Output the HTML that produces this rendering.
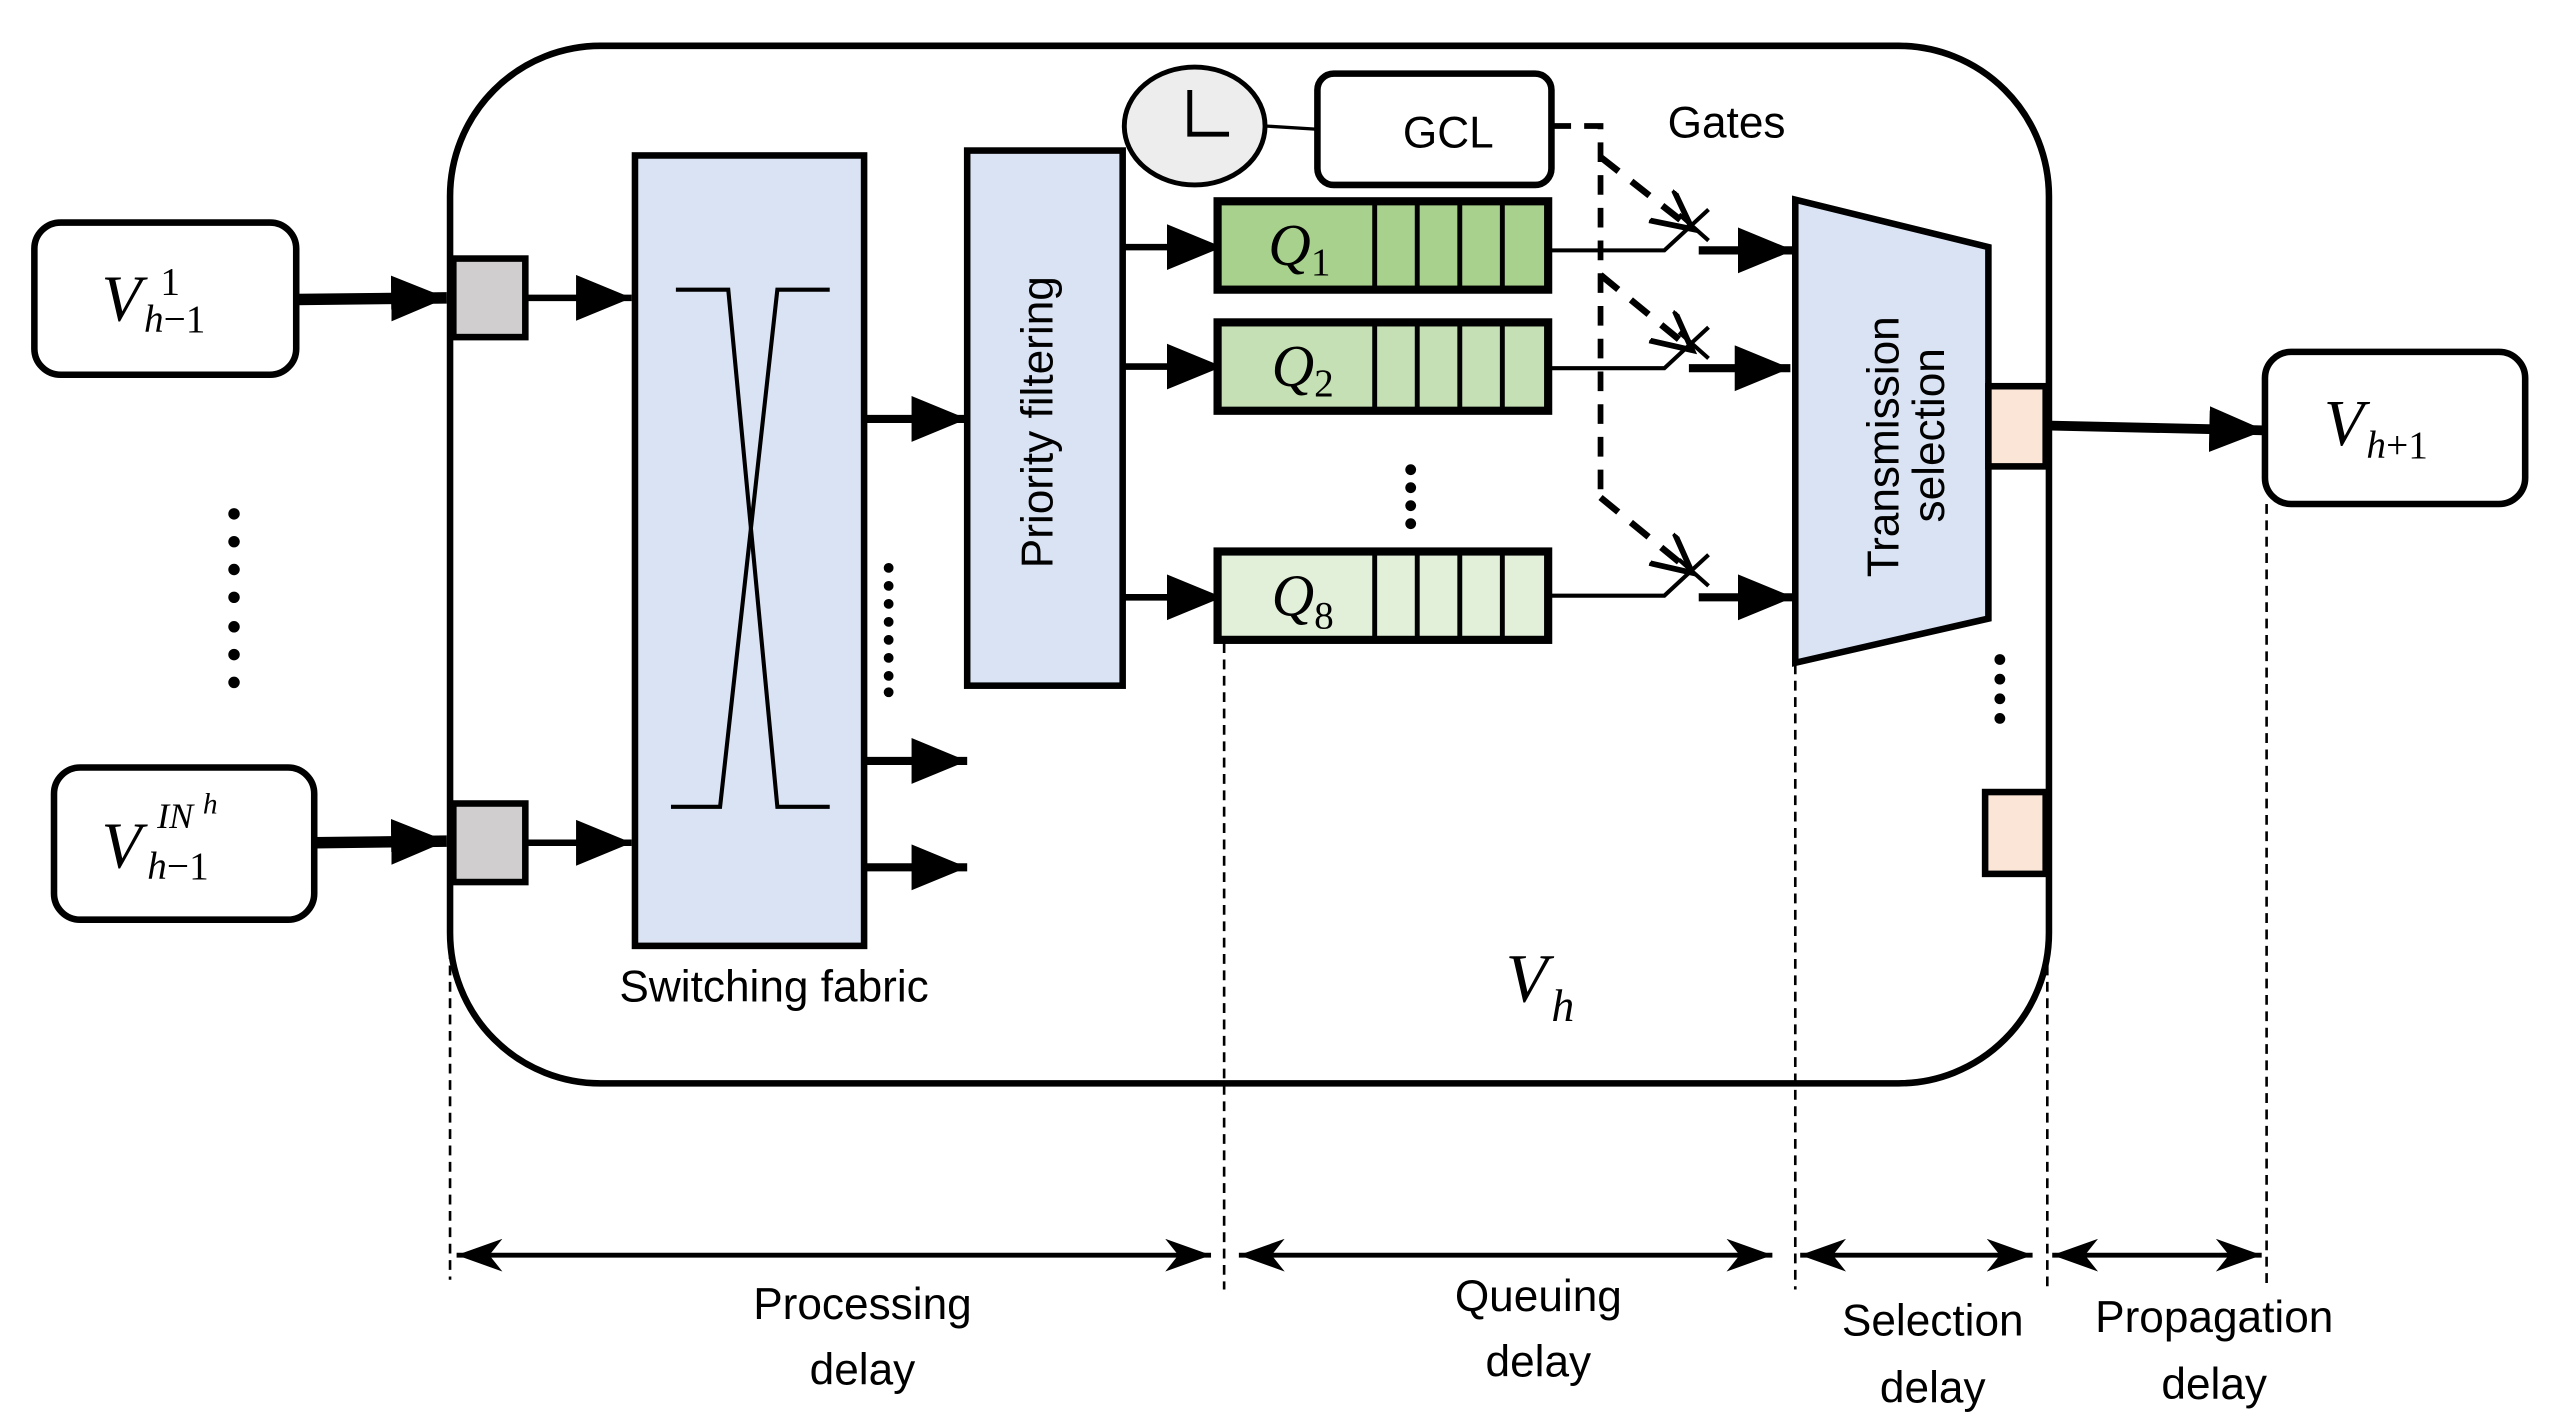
<!DOCTYPE html>
<html><head><meta charset="utf-8"><style>
html,body{margin:0;padding:0;background:#fff;}
svg{display:block;}
.t{font-family:"Liberation Sans",sans-serif;font-size:27px;fill:#000;}
.m{font-family:"Liberation Serif",serif;font-style:italic;fill:#000;}
.u{font-style:normal;}
</style></head><body>
<svg width="2553" height="1427" viewBox="0 0 1560 872" preserveAspectRatio="none" xmlns="http://www.w3.org/2000/svg">
<defs>
<marker id="ah" markerUnits="userSpaceOnUse" markerWidth="40" markerHeight="30" refX="34" refY="14" orient="auto">
<polygon points="0,0 34,14 0,28" fill="#000"/></marker>
<marker id="dh" markerUnits="userSpaceOnUse" markerWidth="30" markerHeight="20" refX="28" refY="10" orient="auto-start-reverse">
<polygon points="0,0 28,10 0,20 8,10" fill="#000"/></marker>
<marker id="ch" markerUnits="userSpaceOnUse" markerWidth="30" markerHeight="30" refX="24" refY="12" orient="auto">
<polyline points="0,0 24,12 0,24" fill="none" stroke="#000" stroke-width="3.5"/></marker>
</defs>

<rect x="275" y="28" width="977" height="634" rx="92" fill="none" stroke="#000" stroke-width="4"/>

<rect x="21" y="136" width="160" height="93" rx="16" fill="#fff" stroke="#000" stroke-width="4"/>
<text class="m" x="62" y="196" font-size="40">V</text>
<text class="m u" x="98" y="180" font-size="24">1</text>
<text class="m" x="88" y="203" font-size="24">h<tspan class="u">−1</tspan></text>
<rect x="33" y="469" width="159" height="93" rx="16" fill="#fff" stroke="#000" stroke-width="4"/>
<text class="m" x="62" y="530" font-size="40">V</text>
<text class="m" x="96" y="506" font-size="22">IN</text>
<text class="m" x="124" y="497" font-size="18">h</text>
<text class="m" x="90" y="537" font-size="24">h<tspan class="u">−1</tspan></text>

<g fill="#000">
<circle cx="143" cy="314" r="3.5"/><circle cx="143" cy="331" r="3.5"/><circle cx="143" cy="348" r="3.5"/><circle cx="143" cy="365" r="3.5"/><circle cx="143" cy="383" r="3.5"/><circle cx="143" cy="400" r="3.5"/><circle cx="143" cy="417" r="3.5"/>
</g>

<line x1="181" y1="183" x2="273" y2="182" stroke="#000" stroke-width="7" marker-end="url(#ah)"/>
<line x1="192" y1="515" x2="273" y2="514" stroke="#000" stroke-width="7" marker-end="url(#ah)"/>

<rect x="277" y="158" width="44" height="48" fill="#d0cece" stroke="#000" stroke-width="4"/>
<rect x="277" y="491" width="44" height="48" fill="#d0cece" stroke="#000" stroke-width="4"/>
<line x1="321" y1="182" x2="386" y2="182" stroke="#000" stroke-width="4" marker-end="url(#ah)"/>
<line x1="321" y1="515" x2="386" y2="515" stroke="#000" stroke-width="4" marker-end="url(#ah)"/>

<rect x="388" y="95" width="140" height="483" fill="#dae3f3" stroke="#000" stroke-width="4"/>
<g stroke="#000" stroke-width="2.5" fill="none">
<polyline points="413,177 445,177 475,493 507,493"/>
<polyline points="507,177 475,177 440,493 410,493"/>
</g>
<text class="t" x="473" y="612" text-anchor="middle" font-size="26">Switching fabric</text>

<line x1="528" y1="256" x2="591" y2="256" stroke="#000" stroke-width="5" marker-end="url(#ah)"/>
<line x1="528" y1="465" x2="591" y2="465" stroke="#000" stroke-width="5" marker-end="url(#ah)"/>
<line x1="528" y1="530" x2="591" y2="530" stroke="#000" stroke-width="5" marker-end="url(#ah)"/>
<g fill="#000">
<circle cx="543" cy="347" r="3"/><circle cx="543" cy="358" r="3"/><circle cx="543" cy="369" r="3"/><circle cx="543" cy="380" r="3"/><circle cx="543" cy="391" r="3"/><circle cx="543" cy="402" r="3"/><circle cx="543" cy="413" r="3"/><circle cx="543" cy="423" r="3"/>
</g>

<rect x="591" y="92" width="95" height="327" fill="#dae3f3" stroke="#000" stroke-width="4"/>
<text class="t" transform="translate(643,258) rotate(-90)" text-anchor="middle" font-size="27">Priority filtering</text>
<line x1="686" y1="151" x2="747" y2="151" stroke="#000" stroke-width="4" marker-end="url(#ah)"/>
<line x1="686" y1="224" x2="747" y2="224" stroke="#000" stroke-width="4" marker-end="url(#ah)"/>
<line x1="686" y1="365" x2="747" y2="365" stroke="#000" stroke-width="4" marker-end="url(#ah)"/>

<g stroke="#000">
<rect x="744" y="123" width="202" height="54" fill="#a9d18e" stroke-width="5"/>
<rect x="744" y="197" width="202" height="54" fill="#c5e0b4" stroke-width="5"/>
<rect x="744" y="337" width="202" height="54" fill="#e2f0d9" stroke-width="5"/>
<g stroke-width="3">
<line x1="840" y1="123" x2="840" y2="177"/><line x1="866" y1="123" x2="866" y2="177"/><line x1="892" y1="123" x2="892" y2="177"/><line x1="918" y1="123" x2="918" y2="177"/>
<line x1="840" y1="197" x2="840" y2="251"/><line x1="866" y1="197" x2="866" y2="251"/><line x1="892" y1="197" x2="892" y2="251"/><line x1="918" y1="197" x2="918" y2="251"/>
<line x1="840" y1="337" x2="840" y2="391"/><line x1="866" y1="337" x2="866" y2="391"/><line x1="892" y1="337" x2="892" y2="391"/><line x1="918" y1="337" x2="918" y2="391"/>
</g></g>
<text class="m" x="775" y="162" font-size="36">Q</text><text class="m u" x="801" y="168" font-size="24">1</text>
<text class="m" x="777" y="236" font-size="36">Q</text><text class="m u" x="803" y="242" font-size="24">2</text>
<text class="m" x="777" y="376" font-size="36">Q</text><text class="m u" x="803" y="384" font-size="24">8</text>
<g fill="#000"><circle cx="862" cy="287" r="3.3"/><circle cx="862" cy="298" r="3.3"/><circle cx="862" cy="309" r="3.3"/><circle cx="862" cy="320" r="3.3"/></g>

<ellipse cx="730" cy="77" rx="43" ry="36" fill="#ededed" stroke="#000" stroke-width="3"/>
<polyline points="727,55 727,82 751,82" fill="none" stroke="#000" stroke-width="3"/>
<line x1="773" y1="77" x2="805" y2="79" stroke="#000" stroke-width="2"/>
<rect x="805" y="45" width="143" height="68" rx="10" fill="#fff" stroke="#000" stroke-width="4"/>
<text class="t" x="885" y="90" text-anchor="middle" font-size="31">GCL</text>
<text class="t" x="1055" y="84" text-anchor="middle" font-size="28">Gates</text>

<g stroke="#000" stroke-width="3.5" fill="none" stroke-dasharray="12,8">
<polyline points="948,77 978,77 978,300"/>
</g>
<g stroke="#000" stroke-width="4" fill="none" stroke-dasharray="14,10">
<line x1="978" y1="96" x2="1034" y2="140" marker-end="url(#ch)"/>
<line x1="978" y1="168" x2="1034" y2="214" marker-end="url(#ch)"/>
<line x1="978" y1="304" x2="1034" y2="350" marker-end="url(#ch)"/>
</g>

<g stroke="#000" stroke-width="2.5" fill="none">
<polyline points="948,153 1017,153 1044,128"/>
<line x1="1026" y1="131" x2="1044" y2="147"/>
<polyline points="948,225 1017,225 1044,200"/>
<line x1="1026" y1="203" x2="1044" y2="219"/>
<polyline points="948,364 1017,364 1044,339"/>
<line x1="1026" y1="342" x2="1044" y2="358"/>
</g>
<line x1="1038" y1="153" x2="1096" y2="153" stroke="#000" stroke-width="5" marker-end="url(#ah)"/>
<line x1="1032" y1="225" x2="1094" y2="225" stroke="#000" stroke-width="5" marker-end="url(#ah)"/>
<line x1="1038" y1="365" x2="1096" y2="365" stroke="#000" stroke-width="5" marker-end="url(#ah)"/>

<polygon points="1097,122 1215,151 1215,378 1097,405" fill="#dae3f3" stroke="#000" stroke-width="4"/>
<text class="t" transform="translate(1160,273) rotate(-90)" text-anchor="middle" font-size="26">Transmission</text>
<text class="t" transform="translate(1188,266) rotate(-90)" text-anchor="middle" font-size="26">selection</text>

<rect x="1215" y="236" width="35" height="49" fill="#fbe5d6" stroke="#000" stroke-width="4"/>
<rect x="1213" y="484" width="37" height="50" fill="#fbe5d6" stroke="#000" stroke-width="4"/>
<g fill="#000"><circle cx="1222" cy="403" r="3.3"/><circle cx="1222" cy="415" r="3.3"/><circle cx="1222" cy="427" r="3.3"/><circle cx="1222" cy="439" r="3.3"/></g>
<line x1="1250" y1="260" x2="1384" y2="263" stroke="#000" stroke-width="6" marker-end="url(#ah)"/>

<rect x="1384" y="215" width="159" height="93" rx="16" fill="#fff" stroke="#000" stroke-width="4"/>
<text class="m" x="1420" y="272" font-size="40">V</text>
<text class="m" x="1446" y="280" font-size="24">h<tspan class="u">+1</tspan></text>

<text class="m" x="920" y="612" font-size="42">V</text>
<text class="m" x="948" y="624" font-size="28">h</text>

<g stroke="#000" stroke-width="1.6" stroke-dasharray="6,4">
<line x1="275" y1="580" x2="275" y2="782"/>
<line x1="748" y1="393" x2="748" y2="788"/>
<line x1="1097" y1="406" x2="1097" y2="788"/>
<line x1="1251" y1="580" x2="1251" y2="788"/>
<line x1="1385" y1="308" x2="1385" y2="788"/>
</g>
<g stroke="#000" stroke-width="3">
<line x1="279" y1="767" x2="740" y2="767" marker-start="url(#dh)" marker-end="url(#dh)"/>
<line x1="757" y1="767" x2="1083" y2="767" marker-start="url(#dh)" marker-end="url(#dh)"/>
<line x1="1100" y1="767" x2="1242" y2="767" marker-start="url(#dh)" marker-end="url(#dh)"/>
<line x1="1254" y1="767" x2="1382" y2="767" marker-start="url(#dh)" marker-end="url(#dh)"/>
</g>
<g class="t" text-anchor="middle" font-size="26">
<text x="527" y="806">Processing</text><text x="527" y="846">delay</text>
<text x="940" y="801">Queuing</text><text x="940" y="841">delay</text>
<text x="1181" y="816">Selection</text><text x="1181" y="857">delay</text>
<text x="1353" y="814">Propagation</text><text x="1353" y="855">delay</text>
</g>
</svg>
</body></html>
